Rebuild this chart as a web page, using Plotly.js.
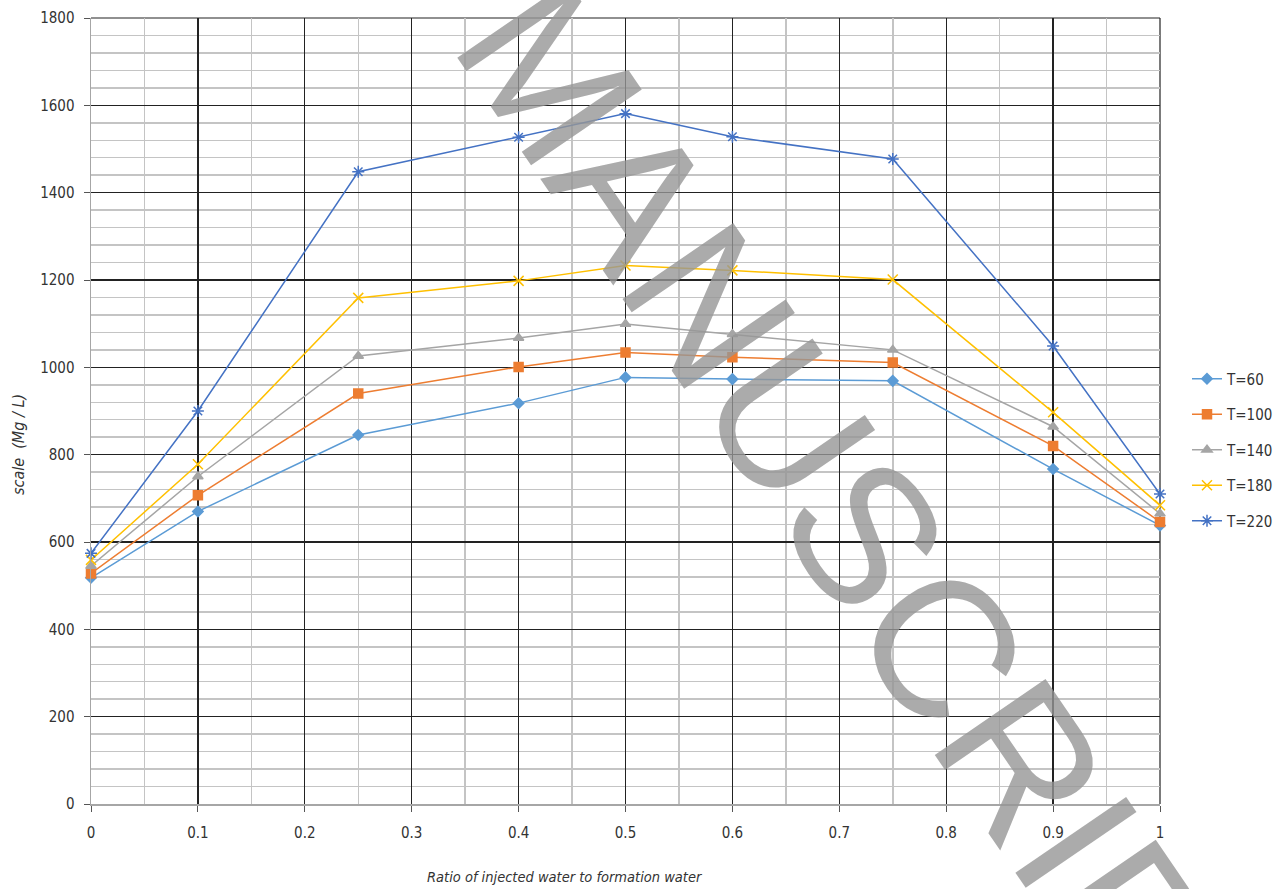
<!DOCTYPE html>
<html>
<head>
<meta charset="utf-8">
<script src="https://cdn.plot.ly/plotly-3.0.1.min.js"></script>
<style>html,body{margin:0;padding:0;background:#fff;}#chart{width:1283px;height:889px;}</style>
</head>
<body>
<div id="chart"></div>
<script>
const ratio = [0, 0.1, 0.25, 0.4, 0.5, 0.6, 0.75, 0.9, 1];
const seriesNames = ["T=60", "T=100", "T=140", "T=180", "T=220"];
const t60  = [518, 670, 845, 918, 977, 973, 969, 767, 638];
const t100 = [528, 707, 940, 1001, 1034, 1023, 1011, 820, 646];
const t140 = [545, 750, 1026, 1067, 1099, 1076, 1040, 864, 665];
const t180 = [559, 778, 1159, 1198, 1233, 1222, 1201, 897, 684];
const t220 = [574, 900, 1448, 1527, 1581, 1528, 1477, 1049, 710];
const xTitle = "Ratio of injected water to formation water";
const yTitle = "scale  (Mg / L)";
const watermark = "ACCEPTED MANUSCRIPT";

const FONT = "'Liberation Sans Narrow', 'DejaVu Sans Condensed', 'Liberation Sans', sans-serif";
const colors = ["#5B9BD5", "#ED7D31", "#A5A5A5", "#FFC000", "#4472C4"];
const symbols = ["diamond", "square", "triangle-up", "x-thin-open", "asterisk-open"];
const sizes = [8, 9, 9, 10, 10];
const values = [t60, t100, t140, t180, t220];

const traces = values.map((v, i) => ({
  x: ratio, y: v, name: seriesNames[i], type: "scatter", mode: "lines+markers",
  legendgroup: "g" + i, cliponaxis: false,
  line: {color: colors[i], width: 1.5},
  marker: {symbol: symbols[i], size: sizes[i], color: colors[i], line: {color: colors[i], width: 1.5}}
}));

const layout = {
  width: 1283, height: 889,
  margin: {l: 91, r: 123, t: 18, b: 85, autoexpand: false},
  paper_bgcolor: "#fff", plot_bgcolor: "#fff",
  font: {family: FONT, size: 15, color: "#333"},
  showlegend: true,
  legend: {x: (1187 - 91) / 1069, xanchor: "left", y: (804 - 450) / 786, yanchor: "middle", tracegroupgap: 13,
           font: {family: FONT, size: 15, color: "#333"}, bgcolor: "rgba(0,0,0,0)"},
  xaxis: {range: [0, 1], dtick: 0.1, tick0: 0, showgrid: true, gridcolor: "#222", gridwidth: 1.2,
          zeroline: false, showline: true, linecolor: "#a6a6a6", linewidth: 1.5,
          ticks: "outside", ticklen: 6, tickcolor: "#555", ticklabelstandoff: 8,
          tickfont: {family: FONT, size: 15, color: "#333"},
          minor: {dtick: 0.05, showgrid: true, gridcolor: "#c4c4c4", gridwidth: 1.5, ticks: ""}},
  yaxis: {range: [0, 1800], dtick: 200, tick0: 0, showgrid: true, gridcolor: "#222", gridwidth: 1.2,
          zeroline: false, showline: true, linecolor: "#a6a6a6", linewidth: 1.5,
          ticks: "outside", ticklen: 6, tickcolor: "#555", ticklabelstandoff: 6,
          tickfont: {family: FONT, size: 15, color: "#333"},
          minor: {dtick: 40, showgrid: true, gridcolor: "#c4c4c4", gridwidth: 1.5, ticks: ""}},
  shapes: [
    {type: "line", xref: "paper", yref: "paper", x0: 1, x1: 1, y0: 0, y1: 1, line: {color: "#222", width: 1.2}, layer: "below"},
    {type: "line", xref: "paper", yref: "paper", x0: 0, x1: 1, y0: 1, y1: 1, line: {color: "#222", width: 1.2}, layer: "below"}
  ],
  annotations: [
    {text: xTitle, xref: "paper", yref: "paper", x: (565 - 91) / 1069, y: -(877 - 804) / 786,
     xanchor: "center", yanchor: "middle", showarrow: false,
     font: {family: FONT, size: 14.5, color: "#333", style: "italic"}},
    {text: yTitle, xref: "paper", yref: "paper", x: (18 - 91) / 1069, y: (804 - 444) / 786,
     xanchor: "center", yanchor: "middle", showarrow: false, textangle: -90,
     font: {family: FONT, size: 16, color: "#333", style: "italic"}},
    {text: watermark, xref: "paper", yref: "paper", x: (553 - 91) / 1069, y: (804 - 77) / 786,
     xanchor: "center", yanchor: "middle", showarrow: false, textangle: 55.6,
     font: {family: "'Liberation Sans', Arial, sans-serif", size: 195, color: "rgba(150,150,150,0.8)"}}
  ]
};

Plotly.newPlot("chart", traces, layout, {displayModeBar: false, staticPlot: true});
</script>
</body>
</html>
